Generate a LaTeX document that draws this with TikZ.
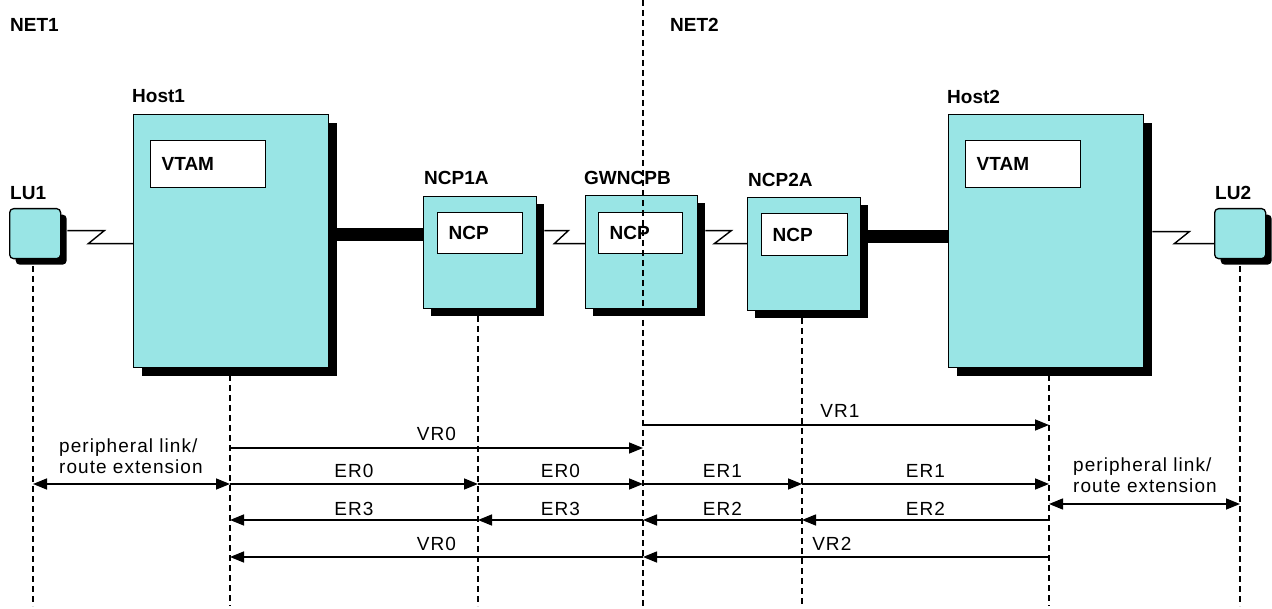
\documentclass[tikz,border=0pt]{standalone}
\usepackage{fontspec}
\setmainfont{Liberation Sans}
\newfontfamily\spacedfont[LetterSpace=5.5]{Liberation Sans}
\usetikzlibrary{arrows.meta,calc,shadows}
\definecolor{boxcyan}{RGB}{153,229,229}
\begin{document}
\begin{tikzpicture}[x=1pt,y=-1pt,
  box/.style={draw=black, line width=1.3pt, fill=boxcyan, anchor=north west, inner sep=0pt},
  hostshadow/.style={drop shadow={fill=black, opacity=1, shadow xshift=8pt, shadow yshift=-8pt}},
  ncpshadow/.style={drop shadow={fill=black, opacity=1, shadow xshift=7pt, shadow yshift=-7pt}},
  lushadow/.style={drop shadow={fill=black, opacity=1, shadow xshift=6pt, shadow yshift=-6pt}},
  inbox/.style={draw=black, line width=1.3pt, fill=white, anchor=north west, inner xsep=11pt, inner ysep=0pt, align=left, font=\bfseries\fontsize{19}{21}\selectfont},
  lbl/.style={anchor=base west, inner sep=0pt, font=\bfseries\fontsize{19}{21}\selectfont},
  rlbl/.style={anchor=base, inner sep=0pt, font=\spacedfont\fontsize{19}{21}\selectfont},
  plbl/.style={anchor=base west, inner sep=0pt, align=left, font=\spacedfont\fontsize{19}{20.5}\selectfont},
  link/.style={draw=black, line width=1.4pt},
  trunk/.style={draw=black, line width=13pt},
  life/.style={draw=black, line width=1.6pt, dash pattern=on 6pt off 4pt},
  arr/.style={draw=black, line width=1.5pt, -{Triangle[length=14pt,width=11pt]}},
  darr/.style={draw=black, line width=1.5pt, {Triangle[length=14pt,width=11pt]}-{Triangle[length=14pt,width=11pt]}}
]
\useasboundingbox (0,0) rectangle (1272,609);

% network labels
\node[lbl] (net1) at (10,32) {NET1};
\node[lbl] (net2) at (670,32) {NET2};

% hosts
\node[box, hostshadow, minimum width=195pt, minimum height=253pt] (host1) at (133,114) {};
\node[box, hostshadow, minimum width=195pt, minimum height=253pt] (host2) at (948,114) {};
\node[lbl] (host1lbl) at (132,103) {Host1};
\node[lbl] (host2lbl) at (947,104) {Host2};
\node[inbox, text width=93pt, minimum height=47pt, inner xsep=11pt] (vtam1) at (150,140) {VTAM};
\node[inbox, text width=93pt, minimum height=47pt, inner xsep=11pt] (vtam2) at (965,140) {VTAM};

% LUs
\node[box, lushadow, rounded corners=4pt, minimum width=51pt, minimum height=50pt] (lu1) at (9,208) {};
\node[box, lushadow, rounded corners=4pt, minimum width=51pt, minimum height=50pt] (lu2) at (1214,208) {};
\node[lbl] (lu1lbl) at (10,200) {LU1};
\node[lbl] (lu2lbl) at (1215,200) {LU2};

% NCPs
\node[box, ncpshadow, minimum width=113pt, minimum height=112pt] (ncp1a) at (423,196) {};
\node[box, ncpshadow, minimum width=112pt, minimum height=113pt] (gwncpb) at (585,195) {};
\node[box, ncpshadow, minimum width=113pt, minimum height=113pt] (ncp2a) at (747,197) {};
\node[lbl] (ncp1albl) at (424,185) {NCP1A};
\node[lbl] (gwlbl) at (584,185) {GWNCPB};
\node[lbl] (ncp2albl) at (748,187) {NCP2A};
\node[inbox, text width=63pt, minimum height=41pt] (ncp1) at (437,212) {NCP};
\node[inbox, text width=62pt, minimum height=41pt] (ncpgw) at (598,212) {NCP};
\node[inbox, text width=64pt, minimum height=42pt] (ncp2) at (761,213) {NCP};

% trunk lines
\coordinate (yt1) at (0,235);
\coordinate (yt2) at (0,237);
\draw[trunk] ([xshift=8pt]host1.east |- yt1) -- (ncp1a.west |- yt1);
\draw[trunk] ([xshift=7pt]ncp2a.east |- yt2) -- (host2.west |- yt2);

% lightning links
\draw[link] ($(lu1.east)+(6,-3)$) -- ++(37,0) -- ++(-16,13) coordinate (k1) -- (k1 -| host1.west);
\draw[link] ($(ncp1a.east)+(7,-22)$) -- ++(24,0) -- ++(-14,13) coordinate (k2) -- (k2 -| gwncpb.west);
\draw[link] ($(gwncpb.east)+(7,-21.5)$) -- ++(26,0) -- ++(-17,13) coordinate (k3) -- (k3 -| ncp2a.west);
\draw[link] ($(host2.east)+(8,-9.5)$) -- ++(37,0) -- ++(-15,12) coordinate (k4) -- (k4 -| lu2.west);

% lifelines
\coordinate (l1t) at (33,266);  \coordinate (l1b) at (33,606);
\coordinate (l2t) at (230,375); \coordinate (l2b) at (230,606);
\coordinate (l3t) at (478,316); \coordinate (l3b) at (478,606);
\coordinate (l4t) at (643,0);   \coordinate (l4b) at (643,609);
\coordinate (l5t) at (802,318); \coordinate (l5b) at (802,606);
\coordinate (l6t) at (1049,375);\coordinate (l6b) at (1049,606);
\coordinate (l7t) at (1240,266);\coordinate (l7b) at (1240,606);
\foreach \i in {1,...,7} {\draw[life] (l\i t) -- (l\i b);}

% rows
\coordinate (rA) at (0,425);
\coordinate (rB) at (0,448);
\coordinate (rC) at (0,484);
\coordinate (rD) at (0,504);
\coordinate (rE) at (0,520);
\coordinate (rF) at (0,557);

\draw[arr] (l4t |- rA) -- node[rlbl, yshift=7pt, pos=0.485] {VR1} (l6t |- rA);
\draw[arr] (l2t |- rB) -- node[rlbl, yshift=7pt] {VR0} (l4t |- rB);

\draw[arr] (l2t |- rC) -- node[rlbl, yshift=7pt] {ER0} (l3t |- rC);
\draw[arr] (l3t |- rC) -- node[rlbl, yshift=7pt] {ER0} (l4t |- rC);
\draw[arr] (l4t |- rC) -- node[rlbl, yshift=7pt] {ER1} (l5t |- rC);
\draw[arr] (l5t |- rC) -- node[rlbl, yshift=7pt] {ER1} (l6t |- rC);

\draw[darr] (l1t |- rC) -- (l2t |- rC);
\node[plbl] (plink1) at (59,473) {peripheral link/\\route extension};
\draw[darr] (l6t |- rD) -- (l7t |- rD);
\node[plbl] (plink2) at (1073,492) {peripheral link/\\route extension};

\draw[arr] (l4t |- rE) -- node[rlbl, yshift=5pt] {ER3} (l3t |- rE);
\draw[arr] (l3t |- rE) -- node[rlbl, yshift=5pt] {ER3} (l2t |- rE);
\draw[arr] (l6t |- rE) -- node[rlbl, yshift=5pt] {ER2} (l5t |- rE);
\draw[arr] (l5t |- rE) -- node[rlbl, yshift=5pt] {ER2} (l4t |- rE);

\draw[arr] (l4t |- rF) -- node[rlbl, yshift=7pt] {VR0} (l2t |- rF);
\draw[arr] (l6t |- rF) -- node[rlbl, yshift=7pt, pos=0.535] {VR2} (l4t |- rF);
\end{tikzpicture}
\end{document}
